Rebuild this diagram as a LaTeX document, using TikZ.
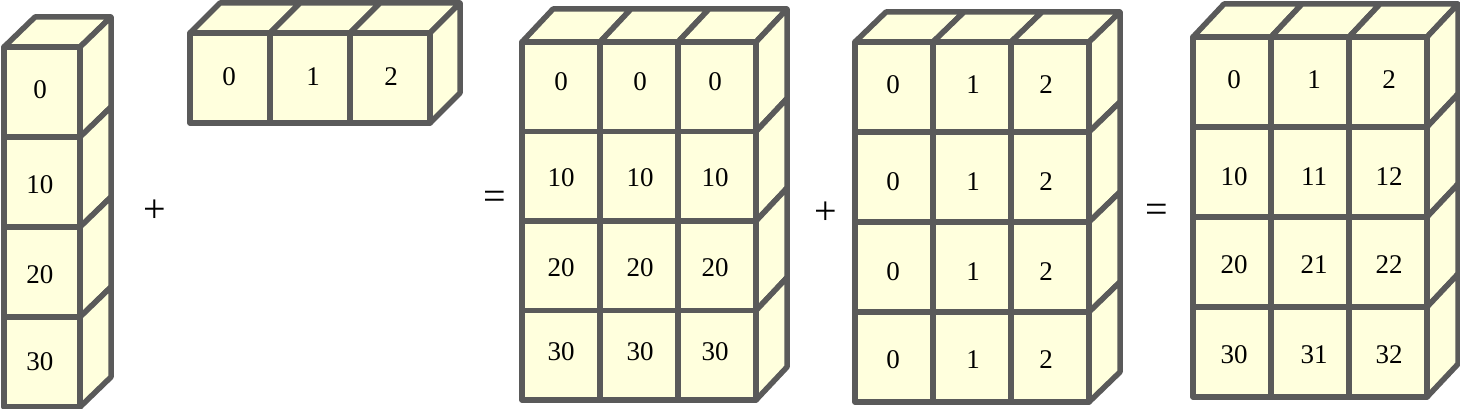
\documentclass[tikz,border=0pt]{standalone}
\usepackage{fontspec}
\setmainfont{Liberation Serif}
\definecolor{cubefill}{HTML}{FFFFDD}
\definecolor{cubeedge}{HTML}{5A5A5A}
\newcommand{\cubegrid}[8]{%
  \foreach \c in {1,...,#3}{%
    \draw[face] ({#1+(\c-1)*#5},#2) -- ++(#7,-#8) -- ++(#5,0) -- ++(-#7,#8) -- cycle;}%
  \foreach \r in {1,...,#4}{%
    \draw[face] ({#1+#3*#5},{#2+(\r-1)*#6}) -- ++(#7,-#8) -- ++(0,#6) -- ++(-#7,#8) -- cycle;}%
  \foreach \c in {1,...,#3}{\foreach \r in {1,...,#4}{%
    \draw[face] ({#1+(\c-1)*#5},{#2+(\r-1)*#6}) rectangle ++(#5,#6);}}%
}
\begin{document}
\begin{tikzpicture}[x=1pt,y=-1pt,
  face/.style={fill=cubefill,draw=cubeedge,line width=5.5pt,line join=round},
  lbl/.style={font=\fontsize{27}{30}\selectfont,inner sep=0pt},
  op/.style={font=\fontsize{40}{44}\selectfont,inner sep=0pt}]
\useasboundingbox (0,0) rectangle (1460,409);
% arrays
\cubegrid{4}{47}{1}{4}{76}{90}{31}{30}
\cubegrid{190}{33}{3}{1}{80}{90}{30}{30}
\cubegrid{522}{42}{3}{4}{78}{89.5}{31}{33}
\cubegrid{855}{42}{3}{4}{78}{90}{31}{30}
\cubegrid{1193}{37}{3}{4}{78}{90}{31}{33}
% labels array 1
\foreach \t/\y [count=\i] in {0/90,10/185,20/275,30/362}
  \node[lbl] (a\i) at (40,\y) {\t};
% array 2
\foreach \t/\x [count=\i] in {0/229,1/313,2/391}
  \node[lbl] (b\i) at (\x,77) {\t};
% array 3
\foreach \t/\y [count=\r] in {0/82,10/178,20/268,30/352}
  \foreach \x [count=\c] in {561,640,715}
    \node[lbl] (c\r\c) at (\x,\y) {\t};
% array 4
\foreach \y [count=\r] in {85,182,272,360}
  \foreach \t/\x [count=\c] in {0/893,1/973,2/1046}
    \node[lbl] (d\r\c) at (\x,\y) {\t};
% array 5
\foreach \tr/\y [count=\r] in {0/80,1/177,2/265,3/355}
  \foreach \x [count=\c] in {1234,1314,1389}
    \node[lbl] (e\r\c) at (\x,\y) {\ifnum\r=1 \the\numexpr\c-1\relax\else\tr\the\numexpr\c-1\relax\fi};
% operators
\node[op] (p1) at (155,211) {+};
\node[op] (q1) at (495,200) {=};
\node[op] (p2) at (826,213) {+};
\node[op] (q2) at (1157,213) {=};
\end{tikzpicture}
\end{document}
